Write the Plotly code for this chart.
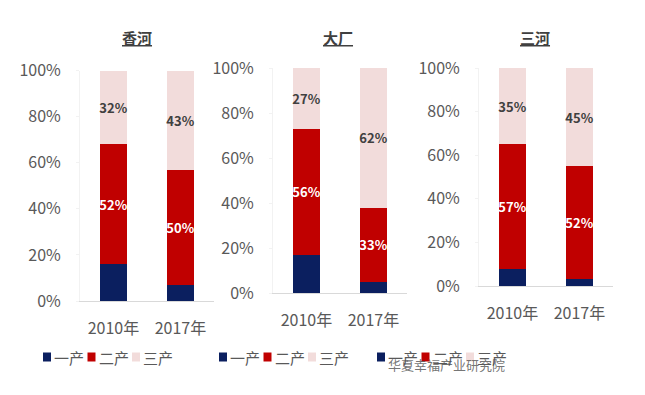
import plotly.graph_objects as go

years = ["2010年", "2017年"]
regions = ["香河", "大厂", "三河"]
primary = {"香河": [16, 7], "大厂": [17, 5], "三河": [8, 3]}
secondary = {"香河": [52, 50], "大厂": [56, 33], "三河": [57, 52]}
tertiary = {"香河": [32, 43], "大厂": [27, 62], "三河": [35, 45]}
series_names = ["一产", "二产", "三产"]
colors = ["#0B1F5F", "#C00000", "#F2DCDB"]
label_colors = ["#FFFFFF", "#FFFFFF", "#404040"]

W, H = 645, 395
FONT = "Noto Sans CJK SC"

# pixel boxes [x0, x1, ytop, ybottom]
boxes = [(80, 214, 70.7, 301), (273, 407, 68, 293), (479, 613, 68, 286)]
title_x = [137, 338, 535]
legend_x0 = [43, 219, 377]
legend_step = 44.5
legend_y = 357

fig = go.Figure()
for i, reg in enumerate(regions):
    sfx = "" if i == 0 else str(i + 1)
    vals = [primary[reg], secondary[reg], tertiary[reg]]
    for j, name in enumerate(series_names):
        v = [x / 100 for x in vals[j]]
        fig.add_trace(go.Bar(
            x=years, y=v, name=name, marker_color=colors[j],
            marker_line_width=0, width=0.4,
            text=None if j == 0 else [f"{x}%" for x in vals[j]],
            textposition="inside", insidetextanchor="middle",
            constraintext="none", textangle=0,
            textfont=dict(family=FONT, size=13, color=label_colors[j], weight="bold"),
            xaxis="x" + sfx, yaxis="y" + sfx,
            showlegend=False, hoverinfo="skip",
        ))
        # legend entry: square + label
        lx = legend_x0[i] + j * legend_step
        fig.add_shape(type="rect", xref="paper", yref="paper",
                      x0=lx / W, x1=(lx + 8) / W,
                      y0=1 - (legend_y + 4.5) / H, y1=1 - (legend_y - 4.5) / H,
                      fillcolor=colors[j], line_width=0)
        fig.add_annotation(x=(lx + 9) / W, y=1 - legend_y / H, xref="paper", yref="paper",
                           xanchor="left", yanchor="middle", text=name, showarrow=False,
                           font=dict(family=FONT, size=15, color="#595959"))
    x0, x1, yt, yb = boxes[i]
    fig.layout["xaxis" + sfx] = dict(
        domain=[x0 / W, x1 / W], anchor="y" + sfx, range=[-0.5, 1.5],
        showline=True, linecolor="#D9D9D9", linewidth=1, showgrid=False,
        ticks="", ticklabelstandoff=13,
        tickfont=dict(family=FONT, size=16, color="#595959"), fixedrange=True,
    )
    fig.layout["yaxis" + sfx] = dict(
        domain=[1 - yb / H, 1 - yt / H], anchor="x" + sfx, range=[0, 1],
        tickvals=[0, 0.2, 0.4, 0.6, 0.8, 1.0], tickformat=".0%",
        showline=True, linecolor="#F2F2F2", linewidth=1, showgrid=False,
        ticks="outside", ticklen=3, tickcolor="#F2F2F2", ticklabelstandoff=12,
        tickfont=dict(family=FONT, size=16, color="#595959"), fixedrange=True,
        zeroline=False,
    )
    fig.add_annotation(
        x=title_x[i] / W, y=1 - 37 / H, xref="paper", yref="paper",
        xanchor="center", yanchor="middle",
        text=f"<u>{reg}</u>", showarrow=False,
        font=dict(family=FONT, size=15, color="#404040", weight="bold"),
    )

fig.add_annotation(
    x=446 / W, y=1 - 364 / H, xref="paper", yref="paper",
    xanchor="center", yanchor="middle",
    text="华夏幸福产业研究院", showarrow=False,
    font=dict(family=FONT, size=13, color="rgba(80,80,80,0.8)"),
)

fig.update_layout(
    width=W, height=H, margin=dict(l=0, r=0, t=0, b=0, autoexpand=False),
    barmode="stack", plot_bgcolor="#FFFFFF", paper_bgcolor="#FFFFFF",
    font=dict(family=FONT), showlegend=False,
)
fig.write_html("out.html", config={"displayModeBar": False},
               post_script="document.body.style.margin='0';")
